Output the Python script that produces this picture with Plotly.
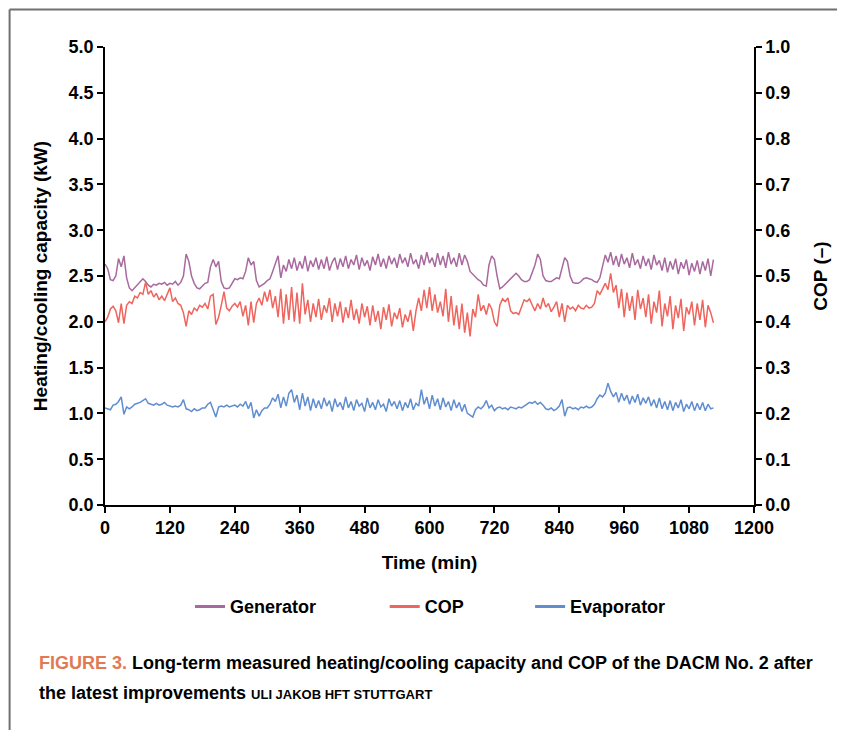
import plotly.graph_objects as go

# ---- data ----
TIME_MIN = list(range(0, 1130, 5))  # sampling every 5 min, 0..1125

GENERATOR_KW = [
    2.63, 2.58, 2.46, 2.45, 2.50, 2.69, 2.60, 2.72, 2.48, 2.37,
    2.34, 2.37, 2.40, 2.44, 2.47, 2.44, 2.40, 2.38, 2.41, 2.40,
    2.42, 2.41, 2.43, 2.40, 2.42, 2.41, 2.44, 2.40, 2.43, 2.50,
    2.74, 2.66, 2.50, 2.42, 2.37, 2.36, 2.39, 2.42, 2.43, 2.60,
    2.68, 2.60, 2.66, 2.44, 2.37, 2.36, 2.37, 2.42, 2.47, 2.46,
    2.48, 2.47, 2.55, 2.70, 2.62, 2.66, 2.45, 2.38, 2.40, 2.42,
    2.45, 2.47, 2.55, 2.63, 2.72, 2.48, 2.62, 2.55, 2.68, 2.58,
    2.70, 2.56, 2.66, 2.58, 2.72, 2.55, 2.67, 2.60, 2.70, 2.57,
    2.68, 2.58, 2.71, 2.56, 2.65, 2.70, 2.57, 2.69, 2.60, 2.72,
    2.58, 2.68, 2.62, 2.73, 2.57, 2.70, 2.61, 2.67, 2.56, 2.71,
    2.62, 2.74, 2.60, 2.69, 2.58, 2.72, 2.63, 2.70, 2.59, 2.74,
    2.64, 2.70, 2.60, 2.75, 2.63, 2.68, 2.58, 2.73, 2.62, 2.76,
    2.64, 2.70, 2.60, 2.75, 2.62, 2.72, 2.59, 2.76, 2.63, 2.70,
    2.60, 2.75, 2.62, 2.73, 2.66, 2.55, 2.52, 2.48, 2.46, 2.44,
    2.40, 2.39, 2.62, 2.72, 2.68, 2.50, 2.36, 2.38, 2.41, 2.43,
    2.47, 2.50, 2.53, 2.50, 2.46, 2.44, 2.44, 2.46, 2.53, 2.62,
    2.74, 2.68, 2.50, 2.45, 2.44, 2.44, 2.46, 2.48, 2.47, 2.60,
    2.70, 2.66, 2.50, 2.43, 2.42, 2.42, 2.44, 2.47, 2.48, 2.47,
    2.46, 2.44, 2.43, 2.48, 2.60, 2.73, 2.65, 2.76, 2.62, 2.72,
    2.60, 2.74, 2.63, 2.70, 2.59, 2.75, 2.62, 2.68, 2.58, 2.72,
    2.61, 2.69, 2.57, 2.73, 2.62, 2.67, 2.56, 2.70, 2.54, 2.66,
    2.57, 2.69, 2.52, 2.65, 2.58, 2.68, 2.51, 2.64, 2.55, 2.67,
    2.52, 2.66, 2.56, 2.69, 2.50, 2.68,
]

COP = [
    0.400, 0.410, 0.428, 0.434, 0.424, 0.398, 0.440, 0.396, 0.436, 0.444,
    0.440, 0.456, 0.452, 0.464, 0.460, 0.486, 0.460, 0.468, 0.454, 0.462,
    0.448, 0.456, 0.446, 0.460, 0.474, 0.444, 0.452, 0.440, 0.436, 0.420,
    0.390, 0.424, 0.416, 0.430, 0.424, 0.436, 0.432, 0.440, 0.428, 0.456,
    0.460, 0.394, 0.410, 0.436, 0.466, 0.430, 0.424, 0.434, 0.440, 0.432,
    0.444, 0.412, 0.436, 0.392, 0.444, 0.398, 0.440, 0.452, 0.436, 0.466,
    0.444, 0.470, 0.430, 0.456, 0.410, 0.472, 0.396, 0.460, 0.404, 0.476,
    0.400, 0.464, 0.396, 0.484, 0.416, 0.448, 0.400, 0.440, 0.410, 0.450,
    0.404, 0.436, 0.420, 0.452, 0.400, 0.440, 0.412, 0.444, 0.398, 0.432,
    0.408, 0.448, 0.404, 0.428, 0.396, 0.440, 0.410, 0.434, 0.392, 0.436,
    0.400, 0.424, 0.384, 0.432, 0.404, 0.438, 0.390, 0.420, 0.406, 0.430,
    0.388, 0.416, 0.400, 0.426, 0.380, 0.424, 0.452, 0.424, 0.470, 0.430,
    0.476, 0.424, 0.460, 0.420, 0.444, 0.412, 0.472, 0.400, 0.456, 0.392,
    0.436, 0.384, 0.440, 0.376, 0.420, 0.368, 0.428, 0.410, 0.460, 0.424,
    0.436, 0.416, 0.440, 0.428, 0.400, 0.390, 0.436, 0.450, 0.444, 0.452,
    0.424, 0.418, 0.420, 0.416, 0.432, 0.448, 0.444, 0.450, 0.436, 0.424,
    0.440, 0.428, 0.452, 0.432, 0.440, 0.422, 0.432, 0.444, 0.410, 0.440,
    0.400, 0.436, 0.428, 0.432, 0.424, 0.436, 0.430, 0.428, 0.436, 0.430,
    0.432, 0.440, 0.468, 0.460, 0.472, 0.484, 0.470, 0.506, 0.464, 0.480,
    0.430, 0.472, 0.410, 0.464, 0.424, 0.456, 0.404, 0.470, 0.428, 0.452,
    0.410, 0.460, 0.396, 0.444, 0.420, 0.468, 0.390, 0.440, 0.412, 0.456,
    0.384, 0.436, 0.408, 0.450, 0.380, 0.432, 0.416, 0.444, 0.392, 0.440,
    0.404, 0.448, 0.388, 0.436, 0.420, 0.398,
]

EVAPORATOR_KW = [
    1.06, 1.05, 1.04, 1.09, 1.10, 1.13, 1.18, 0.99, 1.07, 1.05,
    1.07, 1.10, 1.11, 1.12, 1.14, 1.16, 1.11, 1.10, 1.09, 1.11,
    1.09, 1.10, 1.12, 1.09, 1.08, 1.07, 1.08, 1.07, 1.09, 1.15,
    1.05, 1.04, 1.02, 1.05, 1.03, 1.04, 1.06, 1.06, 1.10, 1.12,
    1.04, 0.96, 1.07, 1.08, 1.07, 1.09, 1.07, 1.08, 1.09, 1.07,
    1.10, 1.08, 1.13, 1.05, 1.12, 0.95, 1.04, 0.97, 1.03, 1.06,
    1.06, 1.10, 1.17, 1.13, 1.21, 1.06, 1.18, 1.08, 1.22, 1.26,
    1.12, 1.20, 1.04, 1.22, 1.08, 1.18, 1.03, 1.16, 1.06, 1.14,
    1.05, 1.17, 1.08, 1.14, 1.02, 1.16, 1.07, 1.12, 1.04, 1.18,
    1.06, 1.13, 1.03, 1.15, 1.08, 1.11, 1.02, 1.17, 1.06, 1.12,
    1.04, 1.15, 1.07, 1.10, 1.02, 1.16, 1.08, 1.13, 1.05, 1.14,
    1.03, 1.12, 1.06, 1.16, 1.04, 1.11, 1.08, 1.26, 1.10, 1.18,
    1.05, 1.20, 1.08, 1.16, 1.04, 1.17, 1.07, 1.13, 1.03, 1.15,
    1.06, 1.12, 1.02, 1.10, 1.00, 0.98, 0.96, 1.04, 1.07, 1.05,
    1.08, 1.14, 1.06, 1.09, 1.03, 1.06, 1.07, 1.05, 1.06, 1.04,
    1.07, 1.06, 1.05, 1.07, 1.06, 1.08, 1.10, 1.12, 1.11, 1.13,
    1.10, 1.12, 1.09, 1.05, 1.04, 1.06, 1.03, 1.05, 1.08, 1.15,
    0.97, 1.06, 1.07, 1.05, 1.06, 1.04, 1.07, 1.06, 1.08, 1.06,
    1.07, 1.10, 1.16, 1.20, 1.18, 1.22, 1.33, 1.24, 1.18, 1.23,
    1.12, 1.22, 1.14, 1.20, 1.10, 1.19, 1.12, 1.21, 1.09, 1.17,
    1.11, 1.18, 1.08, 1.15, 1.06, 1.17, 1.05, 1.13, 1.04, 1.14,
    1.03, 1.12, 1.06, 1.15, 1.02, 1.10, 1.05, 1.13, 1.03, 1.11,
    1.04, 1.12, 1.03, 1.10, 1.05, 1.06,
]

X_TICKS = [0, 120, 240, 360, 480, 600, 720, 840, 960, 1080, 1200]
SERIES_NAMES = ["Generator", "COP", "Evaporator"]
COLORS = {"Generator": "#a8699f", "COP": "#ef645c", "Evaporator": "#5f8dd0"}

FONT = "Liberation Sans, Arial, Helvetica, sans-serif"

fig = go.Figure()

fig.add_trace(go.Scatter(x=TIME_MIN, y=GENERATOR_KW, mode="lines", name="Generator",
                         line=dict(color=COLORS["Generator"], width=1.5), showlegend=False))
fig.add_trace(go.Scatter(x=TIME_MIN, y=COP, mode="lines", name="COP", yaxis="y2",
                         line=dict(color=COLORS["COP"], width=1.5), showlegend=False))
fig.add_trace(go.Scatter(x=TIME_MIN, y=EVAPORATOR_KW, mode="lines", name="Evaporator",
                         line=dict(color=COLORS["Evaporator"], width=1.5), showlegend=False))

# legend entries (one legend per entry so spacing can match the reference)
legend_ids = ["legend", "legend2", "legend3"]
for name, lid in zip(SERIES_NAMES, legend_ids):
    fig.add_trace(go.Scatter(x=[None], y=[None], mode="lines", name=name,
                             line=dict(color=COLORS[name], width=3),
                             legend=lid, showlegend=True,
                             yaxis="y2" if name == "COP" else "y"))

tick_font = dict(family=FONT, size=18, color="black", weight="bold")
title_font = dict(family=FONT, size=19, color="black", weight="bold")

axis_common = dict(showline=True, linecolor="black", linewidth=1.5, ticks="outside",
                   ticklen=6, tickwidth=1.5, tickcolor="black", showgrid=False,
                   zeroline=False, tickfont=tick_font)

fig.update_layout(
    width=845, height=730,
    margin=dict(l=97, r=99, t=39, b=233),
    paper_bgcolor="white", plot_bgcolor="white",
    template="none",
    xaxis=dict(range=[0, 1200], tickvals=X_TICKS,
               title=dict(text="Time (min)", font=title_font, standoff=18),
               **axis_common),
    yaxis=dict(range=[0, 5], dtick=0.5, tickformat=".1f",
               title=dict(text="Heating/cooling capacity (kW)", font=title_font, standoff=16),
               **axis_common),
    yaxis2=dict(range=[0, 1], dtick=0.1, tickformat=".1f", overlaying="y", side="right",
                title=dict(text="COP (–)", font=title_font, standoff=24),
                **axis_common),
)

leg_common = dict(orientation="h", yanchor="middle", xanchor="left",
                  font=dict(family=FONT, size=18, color="black", weight="bold"),
                  bgcolor="rgba(0,0,0,0)", itemwidth=30)
fig.update_layout(
    legend=dict(x=0.131, y=-0.222, **leg_common),
    legend2=dict(x=0.431, y=-0.222, **leg_common),
    legend3=dict(x=0.655, y=-0.222, **leg_common),
)

# caption
fig.add_annotation(xref="paper", yref="paper", x=-0.105, y=-0.345, xanchor="left", yanchor="middle",
                   showarrow=False, align="left",
                   text="<span style='color:#e07a52'>FIGURE 3.</span> Long-term measured heating/cooling capacity and COP of the DACM No. 2 after",
                   font=dict(family=FONT, size=18, color="black", weight="bold"))
fig.add_annotation(xref="paper", yref="paper", x=-0.105, y=-0.4105, xanchor="left", yanchor="middle",
                   showarrow=False, align="left",
                   text="the latest improvements <span style='font-size:13px'>ULI JAKOB HFT STUTTGART</span>",
                   font=dict(family=FONT, size=18, color="black", weight="bold"))

# outer frame lines (top and left edges of the figure box)
fig.add_shape(type="line", xref="paper", yref="paper", x0=-0.147, x1=1.16, y0=1.082, y1=1.082,
              line=dict(color="#707070", width=2))
fig.add_shape(type="line", xref="paper", yref="paper", x0=-0.147, x1=-0.147, y0=1.082, y1=-0.52,
              line=dict(color="#707070", width=2))

fig.write_html("out.html")
